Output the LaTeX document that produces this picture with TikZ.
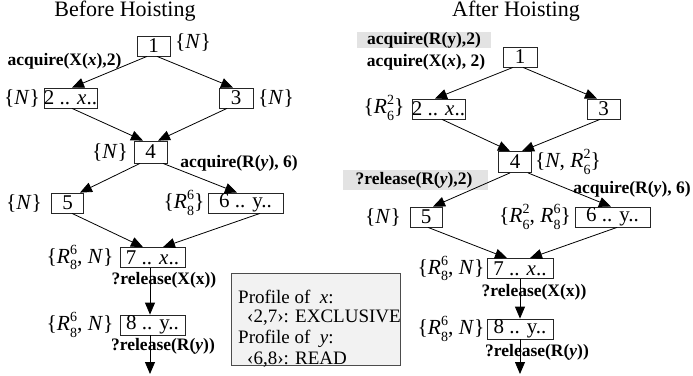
\documentclass[tikz,border=0pt]{standalone}
\usepackage{fontspec}
\setmainfont{Liberation Serif}
\usetikzlibrary{arrows.meta}
\newcommand\Rsub[2]{\textit{R}\rlap{\raisebox{0.42em}{\fontsize{14}{14}\selectfont #1}}\raisebox{-0.3em}{\fontsize{14}{14}\selectfont #2}}
\tikzset{
  box/.style={draw=black!85, fill=white, line width=0.8pt, minimum height=20pt, inner sep=0pt, font=\fontsize{21}{21}\selectfont},
  lab/.style={inner sep=0pt, font=\fontsize{21.5}{21.5}\selectfont},
  op/.style={inner sep=0pt, font=\fontsize{17.5}{17.5}\selectfont\bfseries},
  ttl/.style={inner sep=0pt, font=\fontsize{22}{22}\selectfont},
  shade/.style={fill=black!11, inner sep=0pt},
  arr/.style={-{Triangle[length=12pt,width=10pt]}, line width=0.8pt},
}
\begin{document}
\begin{tikzpicture}[x=1pt,y=-1pt]
\useasboundingbox (0,0) rectangle (693,375);
% ===== Before =====
\node[ttl] (t1) at (125,11) {Before Hoisting};
\node[box, minimum width=33pt] (a1) at (153.5,46) {1};
\node[lab] (la1) at (193,42) {\{\textit{N}\}};
\node[op] (oa1) at (64.5,61) {acquire(X(\textit{x}),2)};
\node[box, minimum width=53pt] (a2) at (70.5,98) {2 .. \textit{x}..};
\node[lab] (la2) at (22,98) {\{\textit{N}\}};
\node[box, minimum width=34pt] (a3) at (236,98) {3};
\node[lab] (la3) at (276,98) {\{\textit{N}\}};
\node[box, minimum width=33pt, minimum height=22pt] (a4) at (150.5,152) {4};
\node[lab] (la4) at (110,152) {\{\textit{N}\}};
\node[op] (oa4) at (239,163) {acquire(R(\textit{y}), 6)};
\node[box, minimum width=32pt] (a5) at (67.5,203) {5};
\node[lab] (la5) at (24,203) {\{\textit{N}\}};
\node[box, minimum width=75pt] (a6) at (245.5,203) {6 .. y..};
\node[lab] (la6) at (184,203) {\{\Rsub{6}{8}\}};
\node[box, minimum width=65pt] (a7) at (152.5,257.5) {7 .. \textit{x}..};
\node[lab] (la7) at (80,257.5) {\{\Rsub{6}{8}, \textit{N}\}};
\node[op] (oa7) at (164,280) {?release(X(x))};
\node[box, minimum width=65pt] (a8) at (152.5,325) {8 .. y..};
\node[lab] (la8) at (80,325) {\{\Rsub{6}{8}, \textit{N}\}};
\node[op] (oa8) at (163,346) {?release(R(\textit{y}))};
\coordinate (ea) at (150,374);
\draw[arr] ([xshift=-6.5pt]a1.south) -- ([xshift=1.5pt]a2.north);
\draw[arr] ([xshift=3.5pt]a1.south) -- ([xshift=-3pt]a3.north);
\draw[arr] ([xshift=1.5pt]a2.south) -- ([xshift=-7.5pt]a4.north);
\draw[arr] ([xshift=-9pt]a3.south) -- ([xshift=7.5pt]a4.north);
\draw[arr] ([xshift=-10.5pt]a4.south) -- ([xshift=12.5pt]a5.north);
\draw[arr] ([xshift=12.5pt]a4.south) -- ([xshift=-8.5pt]a6.north);
\draw[arr] ([xshift=4.5pt]a5.south) -- ([xshift=-9.5pt]a7.north);
\draw[arr] ([xshift=14.5pt]a6.south) -- ([xshift=10.5pt]a7.north);
\draw[arr] ([xshift=-2.5pt]a7.south) -- ([xshift=-2.5pt]a8.north);
\draw[arr] ([xshift=-2.5pt]a8.south) -- (ea);
% profile box
\node[draw=black!70, fill=black!5, line width=0.8pt, minimum width=169pt, minimum height=92pt, inner sep=0pt] (prof) at (315.5,319) {};
\node[anchor=west, inner sep=0pt, font=\fontsize{19}{19}\selectfont] (p1) at (238,297) {Profile of \ \textit{x}:};
\node[anchor=west, inner sep=0pt, font=\fontsize{19}{19}\selectfont] (p2) at (247,318) {‹2,7›: EXCLUSIVE};
\node[anchor=west, inner sep=0pt, font=\fontsize{19}{19}\selectfont] (p3) at (238,339) {Profile of \ \textit{y}:};
\node[anchor=west, inner sep=0pt, font=\fontsize{19}{19}\selectfont] (p4) at (247,360) {‹6,8›: READ};
% ===== After =====
\node[ttl] (t2) at (516,11) {After Hoisting};
\node[shade, minimum width=134pt, minimum height=16pt] (g1) at (424,40) {};
\node[op] (ob1a) at (424,40) {acquire(R(y),2)};
\node[op] (ob1b) at (426,62) {acquire(X(\textit{x}), 2)};
\node[box, minimum width=34pt] (b1) at (520,57) {1};
\node[box, minimum width=53pt] (b2) at (438.5,109) {2 .. \textit{x}..};
\node[lab] (lb2) at (384,108) {\{\Rsub{2}{6}\}};
\node[box, minimum width=33pt] (b3) at (603.5,109) {3};
\node[box, minimum width=33pt, minimum height=21pt] (b4) at (515,162) {4};
\node[lab] (lb4) at (568,162) {\{\textit{N}, \Rsub{2}{6}\}};
\node[shade, minimum width=145pt, minimum height=20pt] (g2) at (415.5,180) {};
\node[op] (ob4a) at (414,180) {?release(R(\textit{y}),2)};
\node[op] (ob4b) at (632,189) {acquire(R(\textit{y}), 6)};
\node[box, minimum width=32pt] (b5) at (426,217) {5};
\node[lab] (lb5) at (383,217) {\{\textit{N}\}};
\node[box, minimum width=75pt] (b6) at (612.5,217) {6 .. y..};
\node[lab] (lb6) at (535,217) {\{\Rsub{2}{6}, \Rsub{6}{8}\}};
\node[box, minimum width=66pt] (b7) at (520,268.5) {7 .. \textit{x}..};
\node[lab] (lb7) at (451,268.5) {\{\Rsub{6}{8}, \textit{N}\}};
\node[op] (ob7) at (534,292) {?release(X(x))};
\node[box, minimum width=66pt] (b8) at (520,329) {8 .. y..};
\node[lab] (lb8) at (451,329) {\{\Rsub{6}{8}, \textit{N}\}};
\node[op] (ob8) at (537,352) {?release(R(\textit{y}))};
\coordinate (eb) at (520,374);
\draw[arr] ([xshift=-7pt]b1.south) -- ([xshift=-3.5pt]b2.north);
\draw[arr] ([xshift=3pt]b1.south) -- ([xshift=-6.5pt]b3.north);
\draw[arr] ([xshift=3.5pt]b2.south) -- ([xshift=-5pt]b4.north);
\draw[arr] ([xshift=-3.5pt]b3.south) -- ([xshift=7pt]b4.north);
\draw[arr] ([xshift=-5pt]b4.south) -- ([xshift=7pt]b5.north);
\draw[arr] ([xshift=13pt]b4.south) -- ([xshift=-1.5pt]b6.north);
\draw[arr] ([xshift=2pt]b5.south) -- ([xshift=-13pt]b7.north);
\draw[arr] ([xshift=4.5pt]b6.south) -- ([xshift=10pt]b7.north);
\draw[arr] (b7.south) -- (b8.north);
\draw[arr] (b8.south) -- (eb);
\end{tikzpicture}
\end{document}
